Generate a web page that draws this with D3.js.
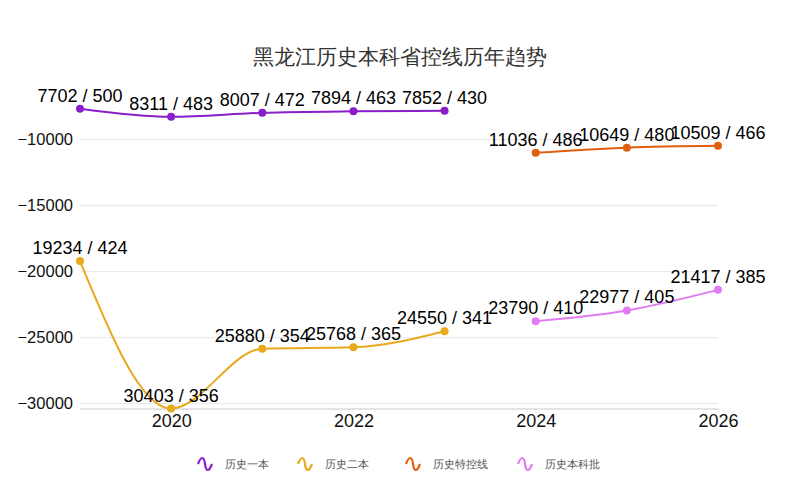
<!DOCTYPE html>
<html>
<head>
<meta charset="utf-8">
<script src="https://cdn.jsdelivr.net/npm/d3@7"></script>
<style>
  body { margin: 0; background: #fff; }
  svg { font-family: "Liberation Sans", Arial, sans-serif; }
</style>
</head>
<body>
<svg id="chart" width="800" height="480"></svg>
<script>
// data: rank (negated on the axis) and score per year
const seriesNames = ['历史一本', '历史二本', '历史特控线', '历史本科批'];
const seriesColors = ['#8a1fc9', '#e8a91c', '#e0600e', '#e07bf3'];

const yiben_years = [2019, 2020, 2021, 2022, 2023];
const yiben_rank = [7702, 8311, 8007, 7894, 7852];
const yiben_score = [500, 483, 472, 463, 430];

const erben_years = [2019, 2020, 2021, 2022, 2023];
const erben_rank = [19234, 30403, 25880, 25768, 24550];
const erben_score = [424, 356, 354, 365, 341];

const tekong_years = [2024, 2025, 2026];
const tekong_rank = [11036, 10649, 10509];
const tekong_score = [486, 480, 466];

const benke_years = [2024, 2025, 2026];
const benke_rank = [23790, 22977, 21417];
const benke_score = [410, 405, 385];

const yTicks = [-10000, -15000, -20000, -25000, -30000];
const xTicks = [2020, 2022, 2024, 2026];

function build(years, ranks, scores) {
  return years.map((y, i) => ({ year: y, rank: ranks[i], score: scores[i] }));
}
const series = [
  build(yiben_years, yiben_rank, yiben_score),
  build(erben_years, erben_rank, erben_score),
  build(tekong_years, tekong_rank, tekong_score),
  build(benke_years, benke_rank, benke_score)
];

const svg = d3.select('#chart');
const plotLeft = 80, plotRight = 718, plotTop = 108.8, plotBottom = 408.5;

const allRanks = series.flat().map(d => -d.rank);
const x = d3.scaleLinear().domain([2019, 2026]).range([plotLeft, plotRight]);
const y = d3.scaleLinear().domain(d3.extent(allRanks)).range([plotBottom, plotTop]);

// title
svg.append('text')
  .attr('x', 400).attr('y', 64)
  .attr('text-anchor', 'middle')
  .attr('font-size', 21)
  .attr('fill', '#333')
  .text('黑龙江历史本科省控线历年趋势');

// y grid + labels
const yAxis = svg.append('g').attr('transform', `translate(${plotLeft},0)`)
  .call(d3.axisLeft(y).tickValues(yTicks).tickSize(-(plotRight - plotLeft)).tickPadding(7).tickFormat(d3.format('d')));
yAxis.select('.domain').remove();
yAxis.selectAll('.tick line').attr('stroke', '#e6e6e6');
yAxis.selectAll('.tick text').attr('font-size', 16.5).attr('fill', '#111');

// x axis
const xAxis = svg.append('g').attr('transform', `translate(0,${plotBottom})`)
  .call(d3.axisBottom(x).tickValues(xTicks).tickSize(0).tickPadding(6).tickFormat(d3.format('d')));
xAxis.select('.domain').attr('stroke', '#c8c8c8');
xAxis.selectAll('.tick text').attr('font-size', 18).attr('fill', '#111');

const line = d3.line()
  .x(d => x(d.year))
  .y(d => y(-d.rank))
  .curve(d3.curveMonotoneX);

series.forEach((data, i) => {
  const g = svg.append('g');
  g.append('path')
    .datum(data)
    .attr('d', line)
    .attr('fill', 'none')
    .attr('stroke', seriesColors[i])
    .attr('stroke-width', 2);
  g.selectAll('circle').data(data).join('circle')
    .attr('cx', d => x(d.year))
    .attr('cy', d => y(-d.rank))
    .attr('r', 4)
    .attr('fill', seriesColors[i]);
  g.selectAll('text').data(data).join('text')
    .attr('x', d => x(d.year))
    .attr('y', d => y(-d.rank) - 7)
    .attr('text-anchor', 'middle')
    .attr('font-size', 18)
    .attr('fill', '#000')
    .text(d => `${d.rank} / ${d.score}`);
});

// legend
const legendX = [198, 298, 406, 518];
const legend = svg.append('g');
seriesNames.forEach((name, i) => {
  const lx = legendX[i], ly = 464;
  legend.append('path')
    .attr('d', `M${lx},${ly} C${lx + 3},${ly - 8} ${lx + 6},${ly - 8} ${lx + 7},${ly} S${lx + 11},${ly + 8} ${lx + 14},${ly}`)
    .attr('fill', 'none')
    .attr('stroke', seriesColors[i])
    .attr('stroke-width', 2.2);
  legend.append('text')
    .attr('x', lx + 27).attr('y', ly + 4)
    .attr('font-size', 11)
    .attr('fill', '#555')
    .text(name);
});
</script>
</body>
</html>
